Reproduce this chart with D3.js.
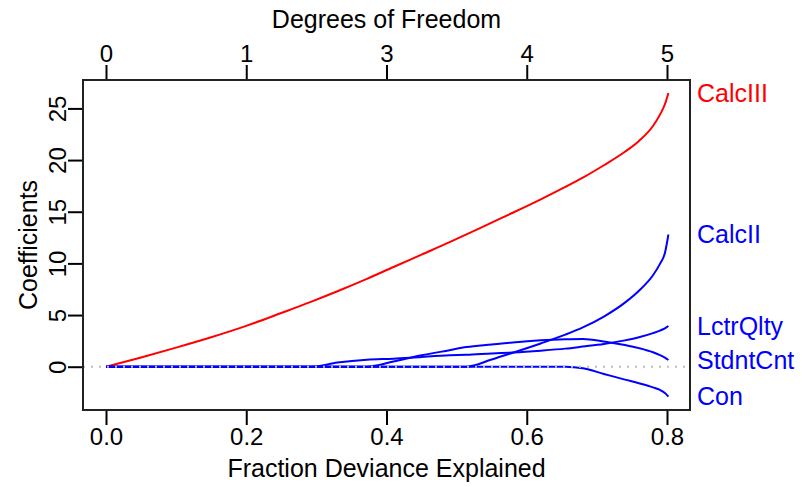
<!DOCTYPE html>
<html>
<head>
<meta charset="utf-8">
<script src="https://cdn.jsdelivr.net/npm/d3@7"></script>
<style>
  body { margin: 0; background: #fff; }
  text { font-family: "Liberation Sans", Arial, sans-serif; }
</style>
</head>
<body>
<div id="chart"></div>
<script>
// fraction of deviance explained along the path
var devGrid = [0, 0.05, 0.10, 0.15, 0.20, 0.25, 0.293, 0.33, 0.372, 0.41, 0.45, 0.49, 0.514,
  0.55, 0.58, 0.62, 0.655, 0.68, 0.71, 0.74, 0.76, 0.78, 0.79, 0.797, 0.802];

var calcIII  = [0, 0.9, 1.85, 2.85, 3.95, 5.2, 6.3, 7.3, 8.5, 9.65, 10.85, 12.05, 12.8,
  13.95, 14.9, 16.2, 17.4, 18.3, 19.5, 20.8, 21.85, 23.3, 24.4, 25.4, 26.5];
var calcII   = [0, 0, 0, 0, 0, 0, 0, 0, 0, 0, 0, 0, 0,
  0.7, 1.35, 2.25, 3.1, 3.8, 4.85, 6.2, 7.35, 8.85, 9.95, 11.0, 12.8];
var lctrQlty = [0, 0, 0, 0, 0, 0, 0, 0.4, 0.68, 0.78, 0.95, 1.1, 1.15,
  1.28, 1.37, 1.55, 1.75, 1.95, 2.2, 2.55, 2.85, 3.25, 3.5, 3.72, 3.94];
var stdntCnt = [0, 0, 0, 0, 0, 0, 0, 0, 0, 0.5, 1.1, 1.6, 1.9,
  2.15, 2.35, 2.55, 2.65, 2.68, 2.45, 2.1, 1.8, 1.4, 1.12, 0.88, 0.65];
var con      = [0, 0, 0, 0, 0, 0, 0, 0, 0, 0, 0, 0, 0,
  0, 0, 0, 0, -0.15, -0.7, -1.25, -1.6, -2.0, -2.25, -2.55, -2.9];

var seriesNames = ['CalcIII', 'CalcII', 'LctrQlty', 'StdntCnt', 'Con'];
var seriesValues = [calcIII, calcII, lctrQlty, stdntCnt, con];
var seriesColors = ['#FF0000', '#0000FF', '#0000FF', '#0000FF', '#0000FF'];

var xTicks = [0, 0.2, 0.4, 0.6, 0.8];
var dfLabels = ['0', '1', '3', '4', '5'];
var yTicks = [0, 5, 10, 15, 20, 25];

var W = 802, H = 487;
var box = { left: 83, right: 690, top: 80, bottom: 410 };
var fs = 24;      // tick labels
var fsTitle = 25; // axis titles and variable labels

var svg = d3.select('#chart').append('svg')
    .attr('width', W)
    .attr('height', H);

var x = d3.scaleLinear().domain([-0.0328, 0.8328]).range([box.left, box.right]);
var y = d3.scaleLinear().domain([-4.19, 27.75]).range([box.bottom, box.top]);

var line = d3.line()
    .x(function(d) { return x(d[0]); })
    .y(function(d) { return y(d[1]); })
    .curve(d3.curveMonotoneX);

// coefficient paths
seriesValues.forEach(function(vals, i) {
  var pts = devGrid.map(function(g, j) { return [g, vals[j]]; });
  svg.append('path')
      .datum(pts)
      .attr('d', line)
      .attr('fill', 'none')
      .attr('stroke', seriesColors[i])
      .attr('stroke-width', 2);
});

// zero reference line (gray dotted, drawn on top)
svg.append('line')
    .attr('x1', box.left).attr('x2', box.right)
    .attr('y1', y(0)).attr('y2', y(0))
    .attr('stroke', '#BEBEBE')
    .attr('stroke-width', 2)
    .attr('stroke-dasharray', '2,6');

// bottom axis
var bottomAxis = svg.append('g')
    .attr('transform', 'translate(0,' + box.bottom + ')')
    .call(d3.axisBottom(x).tickValues(xTicks).tickFormat(d3.format('.1f')).tickSize(15).tickPadding(3));

// top axis (degrees of freedom)
var topAxis = svg.append('g')
    .attr('transform', 'translate(0,' + box.top + ')')
    .call(d3.axisTop(x).tickValues(xTicks).tickFormat(function(d, i) { return dfLabels[i]; }).tickSize(15).tickPadding(3));

// left axis
var leftAxis = svg.append('g')
    .attr('transform', 'translate(' + box.left + ',0)')
    .call(d3.axisLeft(y).tickValues(yTicks).tickSize(15).tickPadding(4));

[bottomAxis, topAxis, leftAxis].forEach(function(g) {
  g.select('.domain').remove();
  g.selectAll('line').attr('stroke', '#000').attr('stroke-width', 2);
  g.selectAll('text').attr('font-size', fs).attr('fill', '#000')
      .attr('font-family', '"Liberation Sans", Arial, sans-serif');
});

// rotate y tick labels like R (parallel to axis)
leftAxis.selectAll('.tick text')
    .attr('x', null).attr('dy', null)
    .attr('text-anchor', 'middle')
    .attr('transform', 'translate(-17,0) rotate(-90)');

// plot frame
svg.append('rect')
    .attr('x', box.left).attr('y', box.top)
    .attr('width', box.right - box.left).attr('height', box.bottom - box.top)
    .attr('fill', 'none')
    .attr('stroke', '#222')
    .attr('stroke-width', 2);

// axis titles
svg.append('text')
    .attr('x', x(0.4)).attr('y', 28)
    .attr('text-anchor', 'middle')
    .attr('font-size', fsTitle)
    .text('Degrees of Freedom');

svg.append('text')
    .attr('x', x(0.4)).attr('y', 477)
    .attr('text-anchor', 'middle')
    .attr('font-size', fsTitle)
    .text('Fraction Deviance Explained');

svg.append('text')
    .attr('transform', 'translate(37,' + ((box.top + box.bottom) / 2) + ') rotate(-90)')
    .attr('text-anchor', 'middle')
    .attr('font-size', fsTitle)
    .text('Coefficients');

// variable labels at final coefficient values
seriesNames.forEach(function(name, i) {
  var vals = seriesValues[i];
  svg.append('text')
      .attr('x', 697)
      .attr('y', y(vals[vals.length - 1]))
      .attr('dy', '0.35em')
      .attr('font-size', fsTitle)
      .attr('fill', seriesColors[i])
      .text(name);
});
</script>
</body>
</html>
